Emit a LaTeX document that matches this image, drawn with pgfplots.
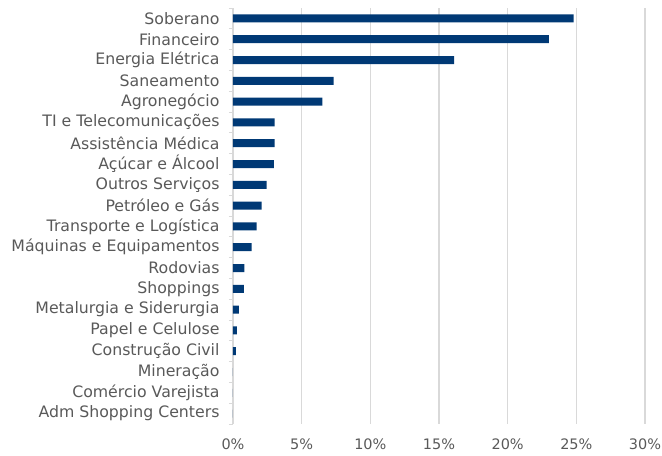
\documentclass[border=0pt]{standalone}
\usepackage{pgfplots}
\pgfplotsset{compat=1.18}
\usepackage{fontspec}
\setmainfont{DejaVu Sans}
\definecolor{barc}{RGB}{0,57,117}
\definecolor{txt}{RGB}{89,89,89}
\definecolor{grd}{RGB}{217,217,217}
\begin{document}
\begin{tikzpicture}
\useasboundingbox (-233bp,-32bp) rectangle (429bp,424bp);
\begin{axis}[
  at={(0,0)}, anchor=south west,
  scale only axis,
  width=412bp, height=416bp,
  xbar, bar width=8bp,
  xmin=0, xmax=30,
  ymin=-0.5, ymax=19.5,
  y dir=reverse,
  xtick={0,5,...,30},
  xticklabel={\pgfmathprintnumber{\tick}\%},
  ytick={0,...,19},
  yticklabels={Soberano,Financeiro,Energia Elétrica,Saneamento,Agronegócio,TI e Telecomunicações,Assistência Médica,Açúcar e Álcool,Outros Serviços,Petróleo e Gás,Transporte e Logística,Máquinas e Equipamentos,Rodovias,Shoppings,Metalurgia e Siderurgia,Papel e Celulose,Construção Civil,Mineração,Comércio Varejista,Adm Shopping Centers},
  minor ytick={-0.5,0.5,...,19.5},
  major tick length=0pt,
  minor tick length=4bp,
  tick align=outside,
  minor tick style={grd, line width=1bp},
  xmajorgrids,
  grid style={grd, line width=1.2bp},
  axis x line*=bottom,
  axis y line*=left,
  x axis line style={draw=none},
  y axis line style={grd, line width=1.2bp},
  tick label style={text=txt},
  yticklabel style={font=\fontsize{15.8}{17}\selectfont, xshift=-10bp},
  xticklabel style={font=\fontsize{14.5}{16}\selectfont, yshift=-11bp},
  /pgf/number format/assume math mode=true,
]
\addplot[fill=barc, draw=none] coordinates {
(24.8,0) (23.0,1) (16.1,2) (7.33,3) (6.5,4) (3.04,5) (3.04,6) (2.98,7) (2.45,8) (2.09,9) (1.72,10) (1.35,11) (0.83,12) (0.8,13) (0.43,14) (0.28,15) (0.21,16) (0,17) (0,18) (0,19)};
\end{axis}
\end{tikzpicture}
\end{document}
